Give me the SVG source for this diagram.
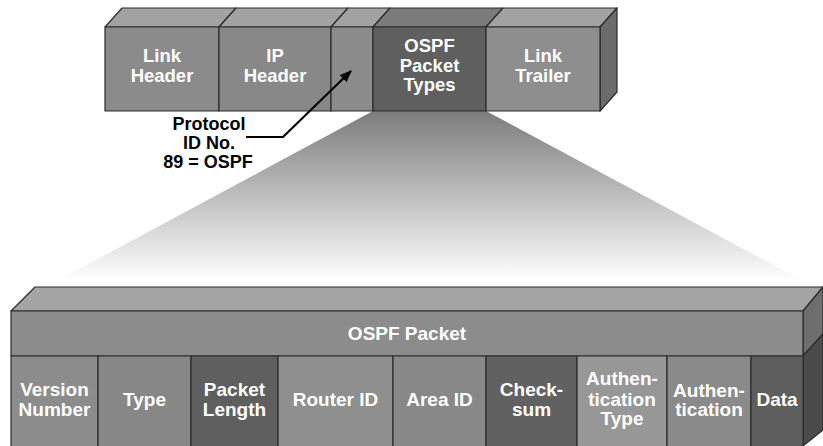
<svg xmlns="http://www.w3.org/2000/svg" width="823" height="446" viewBox="0 0 823 446">
<defs>
<linearGradient id="funnel" x1="0" y1="111" x2="0" y2="280" gradientUnits="userSpaceOnUse">
<stop offset="0" stop-color="#7c7c7c"/>
<stop offset="0.55" stop-color="#c4c4c4"/>
<stop offset="1" stop-color="#ffffff"/>
</linearGradient>
<marker id="ah" viewBox="0 0 12 10" refX="11" refY="5" markerWidth="12" markerHeight="10" markerUnits="userSpaceOnUse" orient="auto">
<path d="M0,0 L12,5 L0,10 Z" fill="#000"/>
</marker>
<style>
.f{stroke:#2b2b2b;stroke-width:1.2;stroke-linejoin:round}
.top{fill:#a2a2a2}
.side{fill:#6c6c6c}
.mid{fill:#8b8b8b}
.dark{fill:#5f5f5f}
.light{fill:#979797}
.wt{font-family:"Liberation Sans",Arial,sans-serif;font-weight:bold;fill:#fff;text-anchor:middle}
.t1{font-size:18.5px}
.t2{font-size:19px}
.bk{font-family:"Liberation Sans",Arial,sans-serif;font-weight:bold;fill:#000;text-anchor:middle;font-size:18px}
</style>
</defs>
<rect width="823" height="446" fill="#fff"/>

<!-- funnel -->
<polygon points="373,111 486,111 805,282 55,282" fill="url(#funnel)"/>

<!-- top strip -->
<g id="top-strip">
<polygon class="f top" points="105,27 122,8 236,8 219,27"/>
<polygon class="f top" points="219,27 236,8 348,8 331,27"/>
<polygon class="f top" points="331,27 348,8 390,8 373,27"/>
<polygon class="f" fill="#7b7b7b" points="373,27 390,8 503,8 486,27"/>
<polygon class="f top" points="486,27 503,8 617,8 600,27"/>
<polygon class="f side" points="600,27 617,8 617,92 600,111"/>
</g>
<g id="link-header">
<rect class="f mid" x="105" y="27" width="114" height="84"/>
<text class="wt t1" x="162" y="62">Link</text>
<text class="wt t1" x="162" y="82">Header</text>
</g>
<g id="ip-header">
<rect class="f" fill="#888" x="219" y="27" width="112" height="84"/>
<text class="wt t1" x="275" y="62">IP</text>
<text class="wt t1" x="275" y="82">Header</text>
</g>
<g id="protocol-field">
<rect class="f mid" x="331" y="27" width="42" height="84"/>
</g>
<g id="ospf-packet-types">
<rect class="f dark" x="373" y="27" width="113" height="84"/>
<text class="wt t1" x="429.5" y="52">OSPF</text>
<text class="wt t1" x="429.5" y="72">Packet</text>
<text class="wt t1" x="429.5" y="91">Types</text>
</g>
<g id="link-trailer">
<rect class="f" fill="#8e8e8e" x="486" y="27" width="114" height="84"/>
<text class="wt t1" x="543" y="62">Link</text>
<text class="wt t1" x="543" y="82">Trailer</text>
</g>

<!-- protocol label -->
<g id="protocol-label">
<text class="bk" x="209" y="130">Protocol</text>
<text class="bk" x="209" y="149">ID No.</text>
<text class="bk" x="208" y="168">89 = OSPF</text>
</g>

<!-- connectors -->
<g id="connectors">
<polyline points="246,137 283,137 351,71" fill="none" stroke="#000" stroke-width="2.2" marker-end="url(#ah)"/>
</g>

<!-- bottom strip -->
<g id="ospf-packet">
<polygon class="f" fill="#a4a4a4" points="11,311 35,287 823,287 803,311"/>
<polygon class="f" fill="#6e6e6e" points="803,311 823,287 823,334 803,356"/>
<polygon class="f" fill="#4b4b4b" points="803,356 823,334 823,430 803,446"/>
<rect class="f" fill="#8c8c8c" x="11" y="311" width="792" height="45"/>
<text class="wt t2" x="407" y="340">OSPF Packet</text>
</g>
<g id="version-number">
<rect class="f" fill="#8c8c8c" x="11" y="356" width="87" height="92"/>
<text class="wt t2" x="54.5" y="396">Version</text>
<text class="wt t2" x="54.5" y="416">Number</text>
</g>
<g id="type">
<rect class="f" fill="#878787" x="98" y="356" width="93" height="92"/>
<text class="wt t2" x="144.5" y="406">Type</text>
</g>
<g id="packet-length">
<rect class="f dark" x="191" y="356" width="87" height="92"/>
<text class="wt t2" x="234.5" y="396">Packet</text>
<text class="wt t2" x="234.5" y="416">Length</text>
</g>
<g id="router-id">
<rect class="f" fill="#8f8f8f" x="278" y="356" width="115" height="92"/>
<text class="wt t2" x="335.5" y="406">Router ID</text>
</g>
<g id="area-id">
<rect class="f" fill="#888" x="393" y="356" width="93" height="92"/>
<text class="wt t2" x="439.5" y="406">Area ID</text>
</g>
<g id="checksum">
<rect class="f" fill="#616161" x="486" y="356" width="91" height="92"/>
<text class="wt t2" x="531.5" y="396">Check-</text>
<text class="wt t2" x="531.5" y="416">sum</text>
</g>
<g id="authentication-type">
<rect class="f light" x="577" y="356" width="90" height="92"/>
<text class="wt t2" x="622" y="385">Authen-</text>
<text class="wt t2" x="622" y="406">tication</text>
<text class="wt t2" x="622" y="425">Type</text>
</g>
<g id="authentication">
<rect class="f" fill="#8a8a8a" x="667" y="356" width="84" height="92"/>
<text class="wt t2" x="709" y="397">Authen-</text>
<text class="wt t2" x="709" y="416">tication</text>
</g>
<g id="data">
<rect class="f" fill="#5e5e5e" x="751" y="356" width="52" height="92"/>
<text class="wt t2" x="777" y="406">Data</text>
</g>
</svg>
